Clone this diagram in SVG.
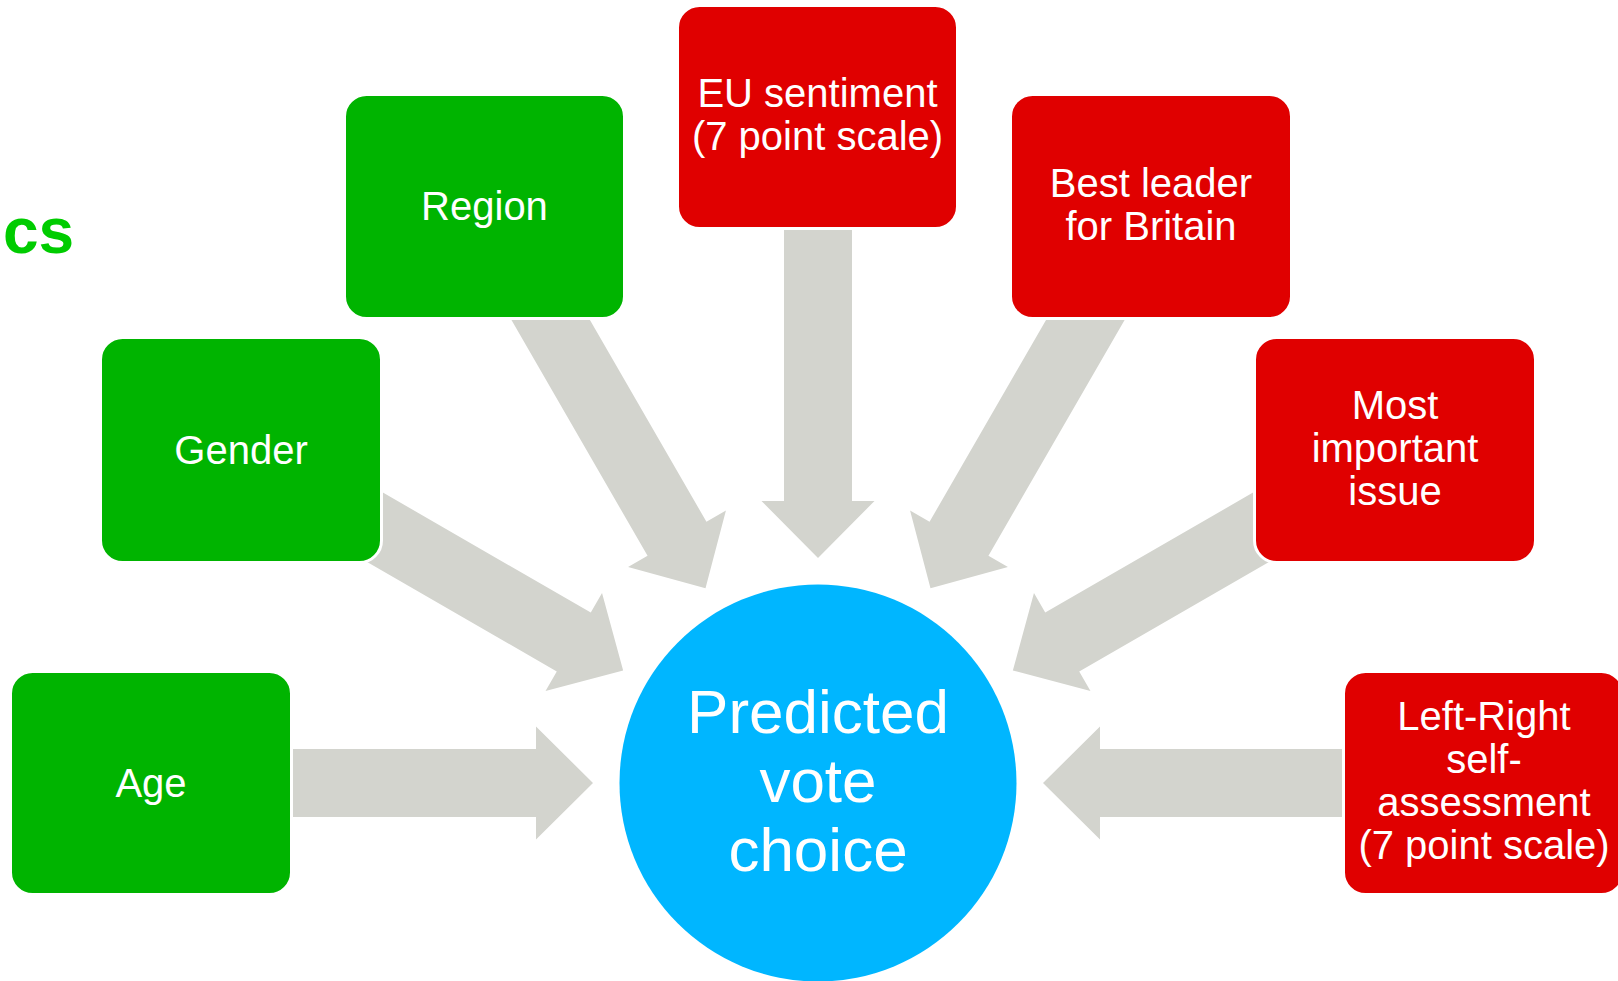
<svg xmlns="http://www.w3.org/2000/svg" width="1618" height="981" viewBox="0 0 1618 981">
<defs>
<style>
.box{stroke:#ffffff;stroke-width:3}
.g{fill:#00B400}
.r{fill:#E00000}
.t{font-family:"Liberation Sans",Arial,sans-serif;font-size:40px;fill:#ffffff;text-anchor:middle}
.ct{font-family:"Liberation Sans",Arial,sans-serif;font-size:62px;fill:#ffffff;text-anchor:middle}
.arr{fill:#D3D4CE}
</style>
<polygon id="arrowShape" class="arr" points="784,183 852,183 852,501 874.5,501 818,558 761.5,501 784,501"/>
</defs>
<rect width="1618" height="981" fill="#ffffff"/>
<text x="3" y="253" font-family="Liberation Sans,Arial,sans-serif" font-weight="bold" font-size="64" fill="#00CC00">cs</text>
<g id="connectors">
<use href="#arrowShape"/>
<use href="#arrowShape" transform="rotate(-30 818 783)"/>
<use href="#arrowShape" transform="rotate(-60 818 783)"/>
<use href="#arrowShape" transform="rotate(-90 818 783)"/>
<use href="#arrowShape" transform="rotate(30 818 783)"/>
<use href="#arrowShape" transform="rotate(60 818 783)"/>
<use href="#arrowShape" transform="rotate(90 818 783)"/>
</g>
<g id="node-center">
<circle cx="818" cy="783" r="198.5" fill="#00B6FF"/>
<text class="ct" x="818" y="733">Predicted</text>
<text class="ct" x="818" y="802">vote</text>
<text class="ct" x="818" y="871">choice</text>
</g>
<g id="node-age">
<rect class="box g" x="10.5" y="671.5" width="281" height="223" rx="22"/>
<text class="t" x="151" y="797">Age</text>
</g>
<g id="node-gender">
<rect class="box g" x="100.5" y="337.5" width="281" height="225" rx="22"/>
<text class="t" x="241" y="464">Gender</text>
</g>
<g id="node-region">
<rect class="box g" x="344.5" y="94.5" width="280" height="224" rx="22"/>
<text class="t" x="484.5" y="220">Region</text>
</g>
<g id="node-eu">
<rect class="box r" x="677.5" y="5.5" width="280" height="223" rx="22"/>
<text class="t" x="817.5" y="107">EU sentiment</text>
<text class="t" x="817.5" y="150">(7 point scale)</text>
</g>
<g id="node-leader">
<rect class="box r" x="1010.5" y="94.5" width="281" height="224" rx="22"/>
<text class="t" x="1151" y="197">Best leader</text>
<text class="t" x="1151" y="240">for Britain</text>
</g>
<g id="node-issue">
<rect class="box r" x="1254.5" y="337.5" width="281" height="225" rx="22"/>
<text class="t" x="1395" y="419">Most</text>
<text class="t" x="1395" y="462">important</text>
<text class="t" x="1395" y="505">issue</text>
</g>
<g id="node-leftright">
<rect class="box r" x="1343.5" y="671.5" width="280" height="223" rx="22"/>
<text class="t" x="1484" y="730">Left-Right</text>
<text class="t" x="1484" y="773">self-</text>
<text class="t" x="1484" y="816">assessment</text>
<text class="t" x="1484" y="859">(7 point scale)</text>
</g>
</svg>
